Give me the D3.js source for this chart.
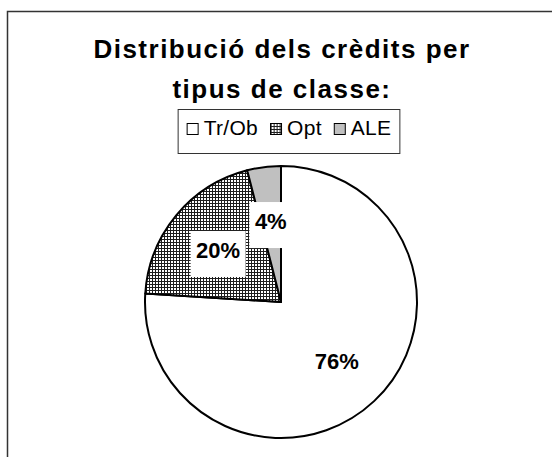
<!DOCTYPE html>
<html>
<head>
<meta charset="utf-8">
<script src="https://cdn.jsdelivr.net/npm/d3@7"></script>
<style>
  body { margin: 0; background: #fff; }
  text { font-family: "Liberation Sans", Arial, sans-serif; }
</style>
</head>
<body>
<div id="chart"></div>
<script>
// chart data
const categories = ["Tr/Ob", "Opt", "ALE"];
const values = [76, 20, 4];
const labels = ["76%", "20%", "4%"];
const titleLines = ["Distribució dels crèdits per", "tipus de classe:"];

const width = 552;
const height = 457;
const cx = 281, cy = 302, radius = 136;

const svg = d3.select("#chart")
    .append("svg")
    .attr("width", width)
    .attr("height", height);

// hatch pattern for Opt
const defs = svg.append("defs");
const pat = defs.append("pattern")
    .attr("id", "grid")
    .attr("width", 3)
    .attr("height", 3)
    .attr("patternUnits", "userSpaceOnUse");
pat.append("rect").attr("width", 3).attr("height", 3).attr("fill", "#fff");
pat.append("rect").attr("width", 3).attr("height", 1).attr("fill", "#1e1e1e");
pat.append("rect").attr("width", 1).attr("height", 3).attr("fill", "#1e1e1e");

const fills = d3.scaleOrdinal()
    .domain(categories)
    .range(["#ffffff", "url(#grid)", "#c0c0c0"]);

// outer frame (runs off the right and bottom)
svg.append("rect")
    .attr("x", 7.5)
    .attr("y", 11.5)
    .attr("width", 570)
    .attr("height", 470)
    .attr("fill", "none")
    .attr("stroke", "#333")
    .attr("stroke-width", 1.5);

// title
svg.append("g")
    .selectAll("text")
    .data(titleLines)
    .enter().append("text")
    .attr("x", 282)
    .attr("y", (d, i) => 58 + i * 40)
    .attr("text-anchor", "middle")
    .attr("font-size", 26)
    .attr("font-weight", "bold")
    .attr("letter-spacing", 1.5)
    .text(d => d);

// pie
const pie = d3.pie().sort(null).value(d => d);
const arc = d3.arc().innerRadius(0).outerRadius(radius);
const labelArc = d3.arc().innerRadius(radius * 0.6).outerRadius(radius * 0.6);

const g = svg.append("g").attr("transform", `translate(${cx},${cy})`);
const arcs = pie(values);

g.selectAll("path")
    .data(arcs)
    .enter().append("path")
    .attr("d", arc)
    .attr("fill", (d, i) => fills(categories[i]))
    .attr("stroke", "#000")
    .attr("stroke-width", 2)
    .attr("stroke-linejoin", "round");

// data labels with white boxes
const lab = g.selectAll("g.lab")
    .data(arcs)
    .enter().append("g")
    .attr("class", "lab")
    .attr("transform", d => `translate(${labelArc.centroid(d)})`);

lab.append("text")
    .attr("text-anchor", "middle")
    .attr("y", 8)
    .attr("font-size", 22)
    .attr("font-weight", "bold")
    .text((d, i) => labels[i]);

lab.each(function() {
    const t = d3.select(this).select("text");
    const w = t.node().getComputedTextLength();
    d3.select(this).insert("rect", "text")
        .attr("x", -w / 2 - 5.5)
        .attr("y", -19)
        .attr("width", w + 11)
        .attr("height", 46)
        .attr("fill", "#fff");
});

// legend
const legend = svg.append("g");
const box = legend.append("rect")
    .attr("fill", "#fff")
    .attr("stroke", "#333")
    .attr("stroke-width", 1);

const items = legend.append("g");
let x = 0;
categories.forEach((c, i) => {
    items.append("rect")
        .attr("x", x + 0.5)
        .attr("y", 123.5)
        .attr("width", 11)
        .attr("height", 11)
        .attr("fill", fills(c))
        .attr("stroke", "#000")
        .attr("stroke-width", 1);
    const t = items.append("text")
        .attr("x", x + 17)
        .attr("y", 135)
        .attr("font-size", 21)
        .attr("letter-spacing", 0.3)
        .text(c);
    x += 17 + t.node().getComputedTextLength() + 12;
});
const legW = x - 12;
const legX = 289 - legW / 2;
items.attr("transform", `translate(${legX},0)`);
box.attr("x", legX - 8.5)
    .attr("y", 109.5)
    .attr("width", legW + 17)
    .attr("height", 44);
</script>
</body>
</html>
